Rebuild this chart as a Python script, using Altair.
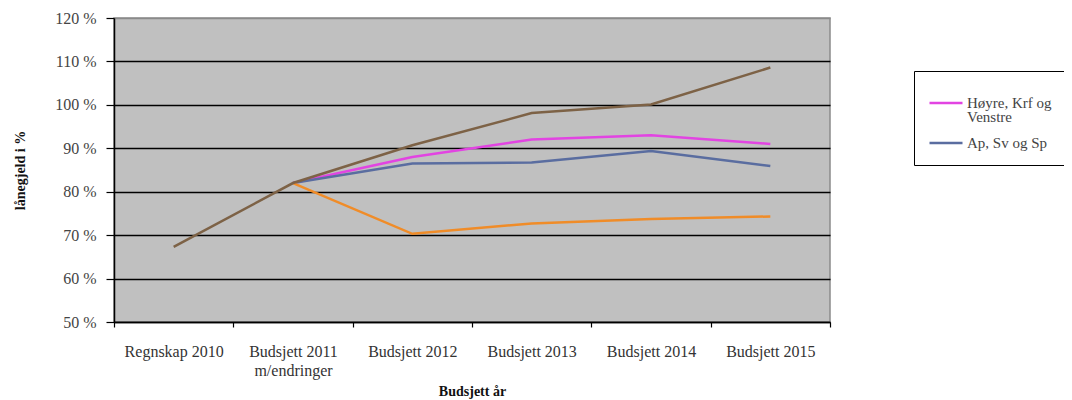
import altair as alt
import pandas as pd

categories = ["Regnskap 2010", "Budsjett 2011 m/endringer", "Budsjett 2012",
              "Budsjett 2013", "Budsjett 2014", "Budsjett 2015"]
series_names = ["Høyre, Krf og Venstre", "Ap, Sv og Sp", "Serie 3", "Serie 4"]
hoyre = [None, 82.0, 88.0, 92.0, 93.0, 91.0]
ap = [None, 82.0, 86.5, 86.7, 89.4, 85.9]
serie3 = [None, 82.0, 70.3, 72.7, 73.7, 74.3]
serie4 = [67.3, 82.0, 90.7, 98.1, 100.1, 108.6]
colors = ["#E244E2", "#5A6DA0", "#F08C28", "#7D6246"]
y_ticks = [50, 60, 70, 80, 90, 100, 110, 120]

rows = []
for name, vals in zip(series_names, [hoyre, ap, serie3, serie4]):
    for i, (c, v) in enumerate(zip(categories, vals)):
        if v is not None:
            rows.append({"kategori": c, "serie": name, "verdi": v, "idx": i})
df = pd.DataFrame(rows)

font = "Liberation Serif"

chart = alt.Chart(df).mark_line(strokeWidth=2.5).encode(
    x=alt.X("kategori:N", sort=categories,
            scale=alt.Scale(type="band", paddingInner=0, paddingOuter=0),
            axis=alt.Axis(title="Budsjett år", tickBand="extent", labelAngle=0,
                          labelExpr="datum.label == 'Budsjett 2011 m/endringer' ? ['Budsjett 2011', 'm/endringer'] : datum.label",
                          labelFont=font, labelFontSize=16, labelColor="#333",
                          labelPadding=16, labelLineHeight=19,
                          tickColor="black", tickSize=5, domainColor="black",
                          domainWidth=1.5, tickWidth=1.2,
                          titleFont=font, titleFontSize=14, titleFontWeight="bold",
                          titleColor="#111", titlePadding=6, grid=False)),
    y=alt.Y("verdi:Q",
            scale=alt.Scale(domain=[50, 120], nice=False, zero=False),
            axis=alt.Axis(title="lånegjeld i %", values=y_ticks,
                          labelExpr="datum.value + ' %'",
                          labelFont=font, labelFontSize=16, labelColor="#444",
                          labelPadding=10, tickSize=8, tickColor="black", tickWidth=1.2,
                          domainColor="black", domainWidth=1.5,
                          grid=True,
                          gridColor={"condition": {"test": "datum.value >= 120", "value": "#8a8a8a"},
                                     "value": "black"},
                          gridWidth=1.5,
                          titleFont=font, titleFontSize=14, titleFontWeight="bold",
                          titleColor="#111", titlePadding=27)),
    color=alt.Color("serie:N",
                    scale=alt.Scale(domain=series_names, range=colors),
                    legend=alt.Legend(title=None, values=series_names[:2],
                                      orient="none", legendX=800, legendY=53,
                                      symbolType="stroke", symbolSize=1089,
                                      symbolStrokeWidth=2.5, labelFont=font,
                                      labelFontSize=15, labelColor="#444",
                                      labelExpr="datum.label == 'Høyre, Krf og Venstre' ? ['Høyre, Krf og', 'Venstre'] : datum.label",
                                      labelLimit=300, strokeColor="black",
                                      fillColor="white", padding=14, rowPadding=0,
                                      labelOffset=3)),
    order="idx:Q",
).properties(
    width=716, height=304,
    padding={"left": 106, "top": 10, "right": 234, "bottom": 90},
    autosize=alt.AutoSizeParams(type="none"),
).configure(
    background="white",
    style={"guide-label": {"lineHeight": 14, "font": font}},
).configure_view(
    fill="#C0C0C0", stroke="#8a8a8a", strokeWidth=1.5
)

chart.save("out.html", embed_options={"renderer": "svg", "actions": False})
